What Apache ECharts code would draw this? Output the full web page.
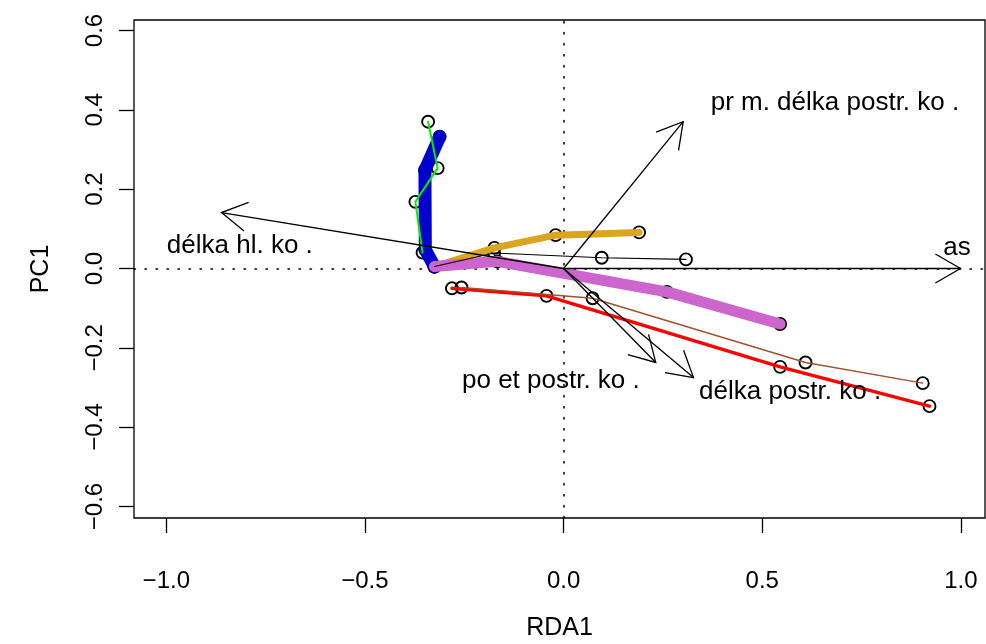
<!DOCTYPE html>
<html><head><meta charset="utf-8">
<script src="https://cdn.jsdelivr.net/npm/echarts@6/dist/echarts.min.js"></script>
<style>html,body{margin:0;padding:0;background:#fff}#c{width:986px;height:644px}</style>
</head><body><div id="c"></div>
<script>
// ---- data ----
const xTicks = [-1.0, -0.5, 0.0, 0.5, 1.0];
const yTicks = [-0.6, -0.4, -0.2, 0.0, 0.2, 0.4, 0.6];
const xRange = [-1.0813, 1.0607];
const yRange = [-0.629, 0.6264];

// trajectories (RDA1, PC1)
const blueTraj    = [[-0.325, 0.005], [-0.348, 0.047], [-0.349, 0.248], [-0.312, 0.332]];
const greenTraj   = [[-0.341, 0.370], [-0.317, 0.253], [-0.373, 0.168], [-0.355, 0.040]];
const goldTraj    = [[-0.325, 0.005], [-0.174, 0.052], [-0.020, 0.084], [0.190, 0.091]];
const blackTraj   = [[-0.325, 0.005], [-0.175, 0.039], [0.096, 0.027], [0.308, 0.023]];
const orchidTraj  = [[-0.325, 0.005], [-0.167, 0.018], [0.260, -0.059], [0.545, -0.140]];
const redTraj     = [[-0.281, -0.050], [-0.043, -0.069], [0.545, -0.248], [0.921, -0.347]];
const brownTraj   = [[-0.257, -0.048], [0.073, -0.075], [0.609, -0.237], [0.904, -0.289]];

// biplot arrows
const arrowNames = ['as', 'pr m. délka postr. ko .', 'délka hl. ko .', 'po et postr. ko .', 'délka postr. ko .'];
const arrowX = [0.999, 0.301, -0.861, 0.232, 0.327];
const arrowY = [0.000, 0.370, 0.141, -0.237, -0.275];
const labelX = [0.990, 0.683, -0.815, -0.032, 0.570];
const labelY = [0.052, 0.417, 0.057, -0.284, -0.311];

// ---- chart ----
const FONT = 'Liberation Sans, Arial, Helvetica, sans-serif';
const FS = 24;
const LFS = 26;
const fmt = v => (Math.abs(v) < 1e-9 ? 0 : v).toFixed(1).replace('-', '\u2212');

function traj(data, color, width, z) {
  return {
    type: 'line', data: data, symbol: 'none', z: z, animation: false, silent: true,
    lineStyle: { color: color, width: width, cap: 'round', join: 'round', opacity: 1 }
  };
}

const allPoints = [].concat(blueTraj, greenTraj, goldTraj, blackTraj, orchidTraj, redTraj, brownTraj);

const chart = echarts.init(document.getElementById('c'), null, { renderer: 'canvas' });
chart.setOption({
  animation: false,
  backgroundColor: '#fff',
  textStyle: { fontFamily: FONT },
  grid: { left: 134, top: 20, right: 1, bottom: 126, show: true, borderColor: '#000', borderWidth: 1.3,
          backgroundColor: 'transparent', containLabel: false, outerBoundsMode: 'none' },
  xAxis: {
    type: 'value', min: xRange[0], max: xRange[1],
    name: 'RDA1', nameLocation: 'middle', nameGap: 98,
    nameTextStyle: { fontSize: LFS - 1, color: '#000', fontFamily: FONT },
    axisLine: { show: false, onZero: false },
    splitLine: { show: false },
    axisTick: { show: true, length: 15, customValues: xTicks, lineStyle: { color: '#000', width: 1.3 } },
    axisLabel: { customValues: xTicks, formatter: fmt, fontSize: FS, color: '#000', margin: 51, fontFamily: FONT }
  },
  yAxis: {
    type: 'value', min: yRange[0], max: yRange[1],
    name: 'PC1', nameLocation: 'middle', nameGap: 80, nameRotate: 90,
    nameTextStyle: { fontSize: LFS - 1, color: '#000', fontFamily: FONT },
    axisLine: { show: false, onZero: false },
    splitLine: { show: false },
    axisTick: { show: true, length: 15, customValues: yTicks, lineStyle: { color: '#000', width: 1.3 } },
    axisLabel: { customValues: yTicks, formatter: fmt, fontSize: FS, color: '#000', margin: 27, rotate: 90, fontFamily: FONT }
  },
  series: [
    {
      type: 'scatter', data: allPoints, z: 1, symbol: 'circle', symbolSize: 12, silent: true,
      itemStyle: { color: 'rgba(0,0,0,0)', borderColor: '#000', borderWidth: 1.9, opacity: 1 },
      markLine: {
        silent: true, symbol: 'none', z: 0, animation: false,
        label: { show: false },
        lineStyle: { color: '#000', width: 1.5, type: [1.5, 9.5], cap: 'round', opacity: 1 },
        data: [{ xAxis: 0 }, { yAxis: 0 }]
      }
    },
    traj(blueTraj, '#0000CD', 13, 2),
    traj(goldTraj, '#DAA520', 7, 2),
    traj(orchidTraj, '#CC66CC', 11, 2),
    traj(redTraj, '#FF0000', 3.5, 3),
    traj(greenTraj, '#00EE00', 2, 3),
    traj(brownTraj, '#A0522D', 1.5, 3),
    traj(blackTraj, '#000000', 1.2, 3),
    {
      type: 'custom', z: 5, silent: true,
      data: arrowX.map((x, i) => [x, arrowY[i]]),
      renderItem: function (params, api) {
        const o = api.coord([0, 0]);
        const e = api.coord([api.value(0), api.value(1)]);
        const ang = Math.atan2(e[1] - o[1], e[0] - o[0]);
        const L = 29, a = Math.PI / 6;
        const h1 = [e[0] - L * Math.cos(ang - a), e[1] - L * Math.sin(ang - a)];
        const h2 = [e[0] - L * Math.cos(ang + a), e[1] - L * Math.sin(ang + a)];
        const st = { stroke: '#000', lineWidth: 1.3, fill: null };
        return {
          type: 'group',
          children: [
            { type: 'line', shape: { x1: o[0], y1: o[1], x2: e[0], y2: e[1] }, style: st },
            { type: 'polyline', shape: { points: [h1, e, h2] }, style: st }
          ]
        };
      }
    },
    {
      type: 'scatter', z: 6, symbolSize: 0, silent: true,
      itemStyle: { opacity: 1 },
      data: arrowNames.map((n, i) => ({ name: n, value: [labelX[i], labelY[i]] })),
      label: { show: true, position: 'inside', formatter: p => p.name, fontSize: LFS, color: '#000',
               textBorderWidth: 0, textBorderColor: 'transparent', fontFamily: FONT }
    }
  ]
});
</script>
</body></html>
